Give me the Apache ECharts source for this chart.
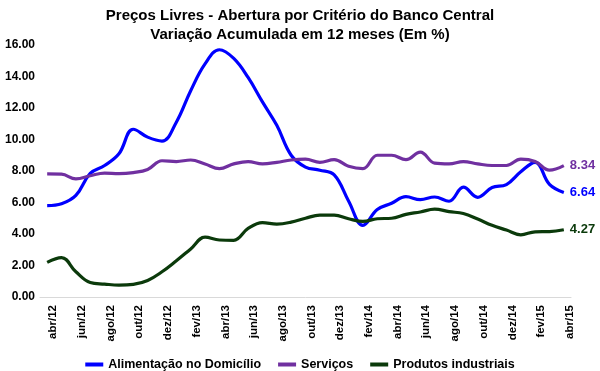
<!DOCTYPE html>
<html>
<head>
<meta charset="utf-8">
<script src="https://cdn.jsdelivr.net/npm/echarts@6/dist/echarts.min.js"></script>
<style>
html,body{margin:0;padding:0;background:#fff;}
#c{width:600px;height:371px;}
</style>
</head>
<body>
<div id="c"></div>
<script>
const categories = ["abr/12","mai/12","jun/12","jul/12","ago/12","set/12","out/12","nov/12","dez/12",
  "jan/13","fev/13","mar/13","abr/13","mai/13","jun/13","jul/13","ago/13","set/13","out/13","nov/13","dez/13",
  "jan/14","fev/14","mar/14","abr/14","mai/14","jun/14","jul/14","ago/14","set/14","out/14","nov/14","dez/14",
  "jan/15","fev/15","mar/15","abr/15"];
const alimentacao = [5.80,5.92,6.45,7.85,8.35,9.09,10.65,10.15,9.90,11.10,13.10,14.80,15.70,15.15,13.94,12.39,10.90,9.00,8.25,8.05,7.75,6.10,4.55,5.55,5.95,6.37,6.18,6.35,6.08,6.97,6.33,6.95,7.14,7.95,8.55,7.15,6.64];
const servicos = [7.82,7.80,7.50,7.70,7.87,7.83,7.90,8.10,8.65,8.60,8.70,8.45,8.15,8.45,8.60,8.45,8.55,8.70,8.75,8.55,8.72,8.30,8.15,9.00,9.00,8.72,9.20,8.50,8.45,8.60,8.45,8.35,8.35,8.75,8.60,8.05,8.34];
const industriais = [2.20,2.50,1.60,0.92,0.82,0.75,0.80,1.05,1.60,2.30,3.05,3.80,3.62,3.60,4.35,4.72,4.63,4.75,5.00,5.20,5.20,4.97,4.80,4.97,5.00,5.25,5.40,5.58,5.42,5.30,4.95,4.55,4.25,3.95,4.14,4.15,4.27];
const seriesNames = ["Alimentação no Domicílio","Serviços","Produtos industriais"];
const colors = ["#0000FF","#7030A0","#0B3A0B"];
const titleLines = ["Preços Livres - Abertura por Critério do Banco Central","Variação Acumulada em 12 meses (Em %)"];

const font = "Liberation Sans, Arial, sans-serif";
const chart = echarts.init(document.getElementById('c'), null, {renderer:'canvas'});
function mk(name, data, color){
  return {
    name, type:'line', data, smooth:0.4, symbol:'none',
    lineStyle:{width:3.2,color}, itemStyle:{color},
    endLabel:{show:true, distance:6, color, fontFamily:font, fontWeight:'bold', fontSize:13,
      formatter:p=>p.value.toFixed(2)}
  };
}
chart.setOption({
  animation:false,
  title:{text:titleLines.join('\n'), left:'center', top:1,
    textStyle:{fontFamily:font, fontWeight:'bold', fontSize:15, lineHeight:19, color:'#000'}},
  legend:{data:seriesNames, left:'center', top:353, icon:'rect', itemWidth:18, itemHeight:4, itemGap:17,
    textStyle:{fontFamily:font, fontWeight:'bold', fontSize:12.5, color:'#000'}},
  grid:{left:40, right:29, top:45, bottom:74},
  xAxis:{type:'category', data:categories, boundaryGap:true,
    axisLine:{lineStyle:{color:'#D9D9D9'}}, axisTick:{show:false},
    axisLabel:{interval:1, rotate:90, margin:8, verticalAlign:'top', fontFamily:font, fontWeight:'bold', fontSize:11.5, color:'#000'}},
  yAxis:{type:'value', min:0, max:16, interval:2, splitLine:{show:false}, axisLine:{show:false}, axisTick:{show:false},
    axisLabel:{margin:5, formatter:v=>v.toFixed(2), fontFamily:font, fontWeight:'bold', fontSize:12, color:'#000'}},
  series:[mk(seriesNames[0],alimentacao,colors[0]), mk(seriesNames[1],servicos,colors[1]), mk(seriesNames[2],industriais,colors[2])]
});
</script>
</body>
</html>
